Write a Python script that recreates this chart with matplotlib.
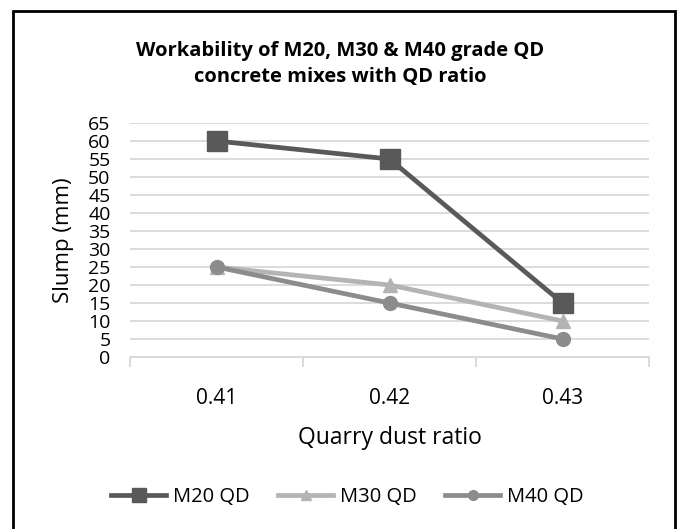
import matplotlib.pyplot as plt
from matplotlib.patches import Rectangle

plt.rcParams['font.family'] = ['Open Sans', 'DejaVu Sans']

ratios = ['0.41', '0.42', '0.43']
m20 = [60, 55, 15]
m30 = [25, 20, 10]
m40 = [25, 15, 5]

fig = plt.figure(figsize=(6.81, 5.29), dpi=100)
ax = fig.add_axes([130/681, 1 - 357/529, (649 - 130)/681, (357 - 123)/529])

x = range(len(ratios))
ax.plot(x, m20, color='#595959', lw=3.4, marker='s', ms=14, label='M20 QD')
ax.plot(x, m30, color='#B4B4B4', lw=3.4, marker='^', ms=10, label='M30 QD')
ax.plot(x, m40, color='#8C8C8C', lw=3.4, marker='o', ms=10, label='M40 QD')

ax.set_ylim(0, 65)
ax.set_yticks(range(0, 70, 5))
ax.set_xlim(-0.5, 2.5)
ax.set_xticks(x)
ax.set_xticklabels(ratios)
ax.set_xticks([-0.5, 0.5, 1.5, 2.5], minor=True)
ax.grid(axis='y', color='#D9D9D9', lw=1.3)
ax.set_axisbelow(True)
for s in ['top', 'right', 'left']:
    ax.spines[s].set_visible(False)
ax.spines['bottom'].set_color('#D9D9D9')
ax.spines['bottom'].set_linewidth(1.3)
ax.tick_params(axis='y', length=0, labelsize=14, pad=14)
ax.tick_params(axis='x', which='major', length=0, labelsize=15, pad=22)
ax.tick_params(axis='x', which='minor', length=7, width=1.3, color='#D9D9D9', direction='out')

ax.set_ylabel('Slump (mm)', fontsize=16, va='center')
ax.yaxis.set_label_coords((64 - 130)/519, 0.5)
ax.set_xlabel('Quarry dust ratio', fontsize=16.5, va='center')
ax.xaxis.set_label_coords(0.5, (357 - 438)/234)

fig.text(0.5, 1 - 64/529, 'Workability of M20, M30 & M40 grade QD\nconcrete mixes with QD ratio',
         ha='center', va='center', fontsize=14.5, fontweight='bold', linespacing=1.4)

fig.legend(loc='center', bbox_to_anchor=(0.5 + 7/681, 1 - 497/529), ncol=3, frameon=False,
           fontsize=14.5, handlelength=2.73, columnspacing=1.4, handletextpad=0.35,
           markerscale=0.7)

fig.patches.append(Rectangle((13/681, -0.01), (675 - 13)/681, 1 - 11/529 + 0.01,
                             transform=fig.transFigure, fill=False, ec='black', lw=2))

fig.savefig('out.png', dpi=100)
